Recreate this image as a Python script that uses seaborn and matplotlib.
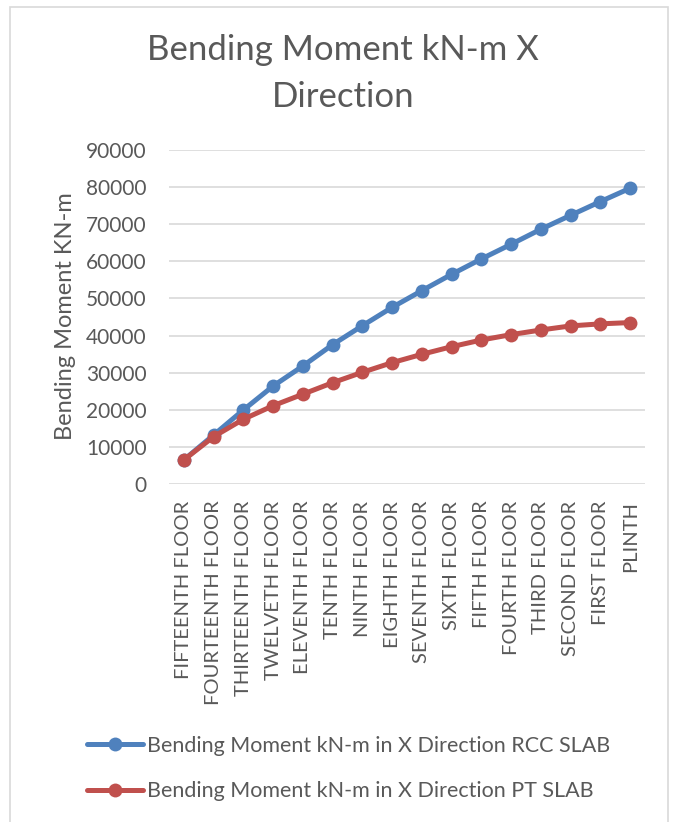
import matplotlib
matplotlib.use("Agg")
import matplotlib.pyplot as plt
from matplotlib.patches import Rectangle
import pandas as pd
import seaborn as sns

floors = ["FIFTEENTH FLOOR", "FOURTEENTH FLOOR", "THIRTEENTH FLOOR", "TWELVETH FLOOR",
          "ELEVENTH FLOOR", "TENTH FLOOR", "NINTH FLOOR", "EIGHTH FLOOR",
          "SEVENTH FLOOR", "SIXTH FLOOR", "FIFTH FLOOR", "FOURTH FLOOR",
          "THIRD FLOOR", "SECOND FLOOR", "FIRST FLOOR", "PLINTH"]
rcc_slab = [6500, 13200, 19950, 26400, 31800, 37550, 42650, 47600,
            52100, 56500, 60650, 64600, 68650, 72400, 76100, 79700]
pt_slab = [6500, 12750, 17450, 21100, 24200, 27300, 30100, 32700,
           34950, 37000, 38800, 40250, 41500, 42600, 43150, 43500]
series_names = ["Bending Moment kN-m in X Direction RCC SLAB",
                "Bending Moment kN-m in X Direction PT SLAB"]
y_ticks = [0, 10000, 20000, 30000, 40000, 50000, 60000, 70000, 80000, 90000]

df = pd.DataFrame({
    "floor": floors * 2,
    "value": rcc_slab + pt_slab,
    "series": [series_names[0]] * len(floors) + [series_names[1]] * len(floors),
})
df["pos"] = list(range(len(floors))) * 2

sns.set_theme(style="white")
plt.rcParams["font.family"] = ["Lato", "DejaVu Sans"]
text_color = "#595959"
grid_color = "#D9D9D9"
colors = ["#4F81BD", "#C0504D"]

fig = plt.figure(figsize=(6.78, 8.22), dpi=100)
ax = fig.add_axes([169 / 678, 1 - 484 / 822, 476 / 678, 334 / 822])

sns.lineplot(data=df, x="pos", y="value", hue="series", hue_order=series_names,
             palette=colors, marker="o", markersize=10, markeredgewidth=0,
             linewidth=3.6, sort=False, ax=ax, legend=False)

ax.set_xlim(-0.5, len(floors) - 0.5)
ax.set_ylim(0, 90000)
ax.set_yticks(y_ticks)
ax.set_yticklabels([str(v) for v in y_ticks], color=text_color, fontsize=15)
ax.set_xticks(range(len(floors)))
ax.set_xticklabels(floors, rotation=90, color=text_color, fontsize=14.5)
ax.tick_params(axis="y", length=0, pad=16)
ax.tick_params(axis="x", length=0, pad=12)
ax.grid(axis="y", color=grid_color, linewidth=1.2)
ax.set_axisbelow(True)
for s in ax.spines.values():
    s.set_visible(False)
ax.set_xlabel("")
ax.set_ylabel("Bending Moment KN-m", color=text_color, fontsize=17)
ax.yaxis.set_label_coords(-(169 - 76) / 476, (484 - 316) / 334)

fig.text(0.506, 1 - 50 / 822, "Bending Moment kN-m X", ha="center", va="center",
         fontsize=25, color=text_color)
fig.text(0.506, 1 - 97 / 822, "Direction", ha="center", va="center",
         fontsize=25, color=text_color)

handles = ax.get_lines()[:2]
leg = fig.legend(handles, series_names, loc="upper left",
                 bbox_to_anchor=(78 / 678, 1 - 727 / 822), frameon=False,
                 fontsize=15.5, labelcolor=text_color, handlelength=2.6,
                 handletextpad=0.2, labelspacing=1.2, borderaxespad=0)

fig.patches.append(Rectangle((10 / 678, -0.05), 658 / 678, 1.05 - 7 / 822,
                             transform=fig.transFigure, fill=False,
                             edgecolor=grid_color, linewidth=1.2))

fig.savefig("out.png", dpi=100, facecolor="white")
